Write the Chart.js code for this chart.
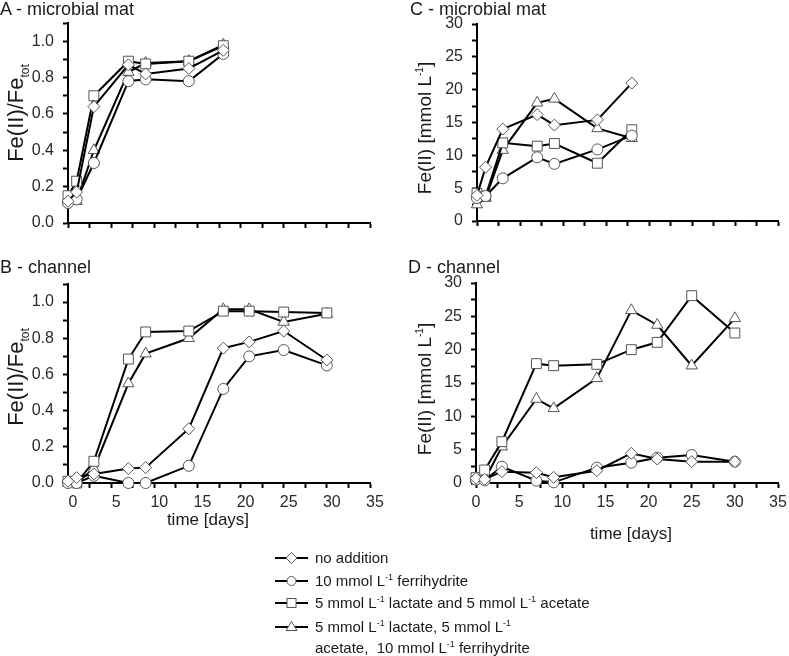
<!DOCTYPE html>
<html><head><meta charset="utf-8">
<script src="https://cdn.jsdelivr.net/npm/chart.js@4"></script>
<style>
html,body{margin:0;padding:0;background:#fff;}
#wrap{position:relative;width:789px;height:656px;overflow:hidden;font-family:"Liberation Sans",Arial,sans-serif;color:#1a1a1a;}
canvas{position:absolute;}
.t{position:absolute;white-space:nowrap;line-height:1;}
.c{transform:translate(-50%,-50%);}
.yt{position:absolute;white-space:nowrap;line-height:1;font-size:22px;transform:translate(-50%,-50%) rotate(-90deg);}
.yt2{font-size:19px;}
.sub{font-size:12px;position:relative;top:6px;}
.sup{font-size:10px;position:relative;top:-8px;}
.lg{position:absolute;left:275px;height:16px;font-size:15px;line-height:16px;white-space:nowrap;}
.lg svg{position:absolute;left:0;top:1px;}
.lg span.tx{position:absolute;left:40px;top:0;}
.lsup{font-size:9px;position:relative;top:-6px;}
</style>
</head><body>
<div id="wrap">
<canvas id="cA" width="390" height="240" style="left:0;top:0"></canvas>
<canvas id="cC" width="399" height="240" style="left:390px;top:0"></canvas>
<canvas id="cB" width="390" height="290" style="left:0;top:240px"></canvas>
<canvas id="cD" width="399" height="290" style="left:390px;top:240px"></canvas>

<div class="t" style="left:0;top:0;font-size:18px">A - microbial mat</div>
<div class="t" style="left:410px;top:0;font-size:18px">C - microbial mat</div>
<div class="t" style="left:0;top:258px;font-size:18px">B - channel</div>
<div class="t" style="left:408px;top:258px;font-size:18px">D - channel</div>

<div class="yt" style="left:16px;top:113px">Fe(II)/Fe<span class="sub">tot</span></div>
<div class="yt" style="left:16px;top:377px">Fe(II)/Fe<span class="sub">tot</span></div>
<div class="yt yt2" style="left:424px;top:128px">Fe(II) [mmol L<span class="sup">-1</span>]</div>
<div class="yt yt2" style="left:424px;top:389px">Fe(II) [mmol L<span class="sup">-1</span>]</div>

<div class="t c" style="left:208px;top:519px;font-size:17px">time [days]</div>
<div class="t c" style="left:631px;top:533px;font-size:17px">time [days]</div>

<div id="legend"></div>
</div>
<script>
// ---- data ----
const timeMat = [0, 1, 3, 7, 9, 14, 18];
const timeChan = [0, 1, 3, 7, 9, 14, 18, 21, 25, 30];

const seriesNames = [
  'no addition',
  '10 mmol L-1 ferrihydrite',
  '5 mmol L-1 lactate and 5 mmol L-1 acetate',
  '5 mmol L-1 lactate, 5 mmol L-1 acetate, 10 mmol L-1 ferrihydrite'
];

// A - microbial mat, Fe(II)/Fe_tot
const matRatioNoAdd      = [0.12, 0.17, 0.64, 0.87, 0.82, 0.85, 0.95];
const matRatioFerri      = [0.11, 0.13, 0.33, 0.78, 0.79, 0.78, 0.93];
const matRatioLacAc      = [0.15, 0.23, 0.70, 0.89, 0.875, 0.89, 0.975];
const matRatioLacAcFerri = [0.12, 0.12, 0.40, 0.83, 0.88, 0.89, 0.98];

// C - microbial mat, Fe(II) mmol/L
const matFeNoAdd      = [3.9, 8.2, 14.0, 16.2, 14.6, 15.4, 21.0];
const matFeFerri      = [3.5, 3.8, 6.5, 9.7, 8.7, 10.9, 13.0];
const matFeLacAc      = [4.2, 3.8, 11.9, 11.4, 11.8, 8.8, 13.9];
const matFeLacAcFerri = [2.5, 3.5, 10.8, 18.0, 18.6, 14.1, 12.6];

// B - channel, Fe(II)/Fe_tot
const chanRatioNoAdd      = [0.01, 0.03, 0.05, 0.08, 0.085, 0.30, 0.745, 0.78, 0.84, 0.68];
const chanRatioFerri      = [0.0, 0.0, 0.04, 0.0, 0.0, 0.095, 0.52, 0.70, 0.735, 0.65];
const chanRatioLacAc      = [0.01, 0.0, 0.12, 0.685, 0.835, 0.84, 0.95, 0.95, 0.945, 0.94];
const chanRatioLacAcFerri = [0.0, 0.0, 0.08, 0.55, 0.715, 0.80, 0.96, 0.96, 0.89, 0.935];

// D - channel, Fe(II) mmol/L
const chanFeNoAdd      = [0.7, 0.55, 1.7, 1.55, 0.85, 1.85, 4.45, 3.6, 3.2, 3.2];
const chanFeFerri      = [0.5, 0.4, 2.45, 0.35, 0.1, 2.3, 3.05, 3.8, 4.2, 3.2];
const chanFeLacAc      = [0.8, 1.95, 6.2, 17.9, 17.6, 17.8, 20.0, 21.1, 28.1, 22.5];
const chanFeLacAcFerri = [0.6, 0.45, 5.45, 12.6, 11.2, 15.7, 25.9, 23.7, 17.6, 24.7];

const xTicks = [0, 5, 10, 15, 20, 25, 30, 35];
const ratioTicks = [0.0, 0.2, 0.4, 0.6, 0.8, 1.0];
const feTicks = [0, 5, 10, 15, 20, 25, 30];

// ---- styling ----
const markerStyles = [
  {pointStyle: 'rectRot', pointRadius: 6},
  {pointStyle: 'circle', pointRadius: 5.5},
  {pointStyle: 'rect', pointRadius: 7},
  {pointStyle: 'triangle', pointRadius: 6.5}
];
const FONT = {family: '"Liberation Sans", Arial, sans-serif', size: 16};
const TICKCOL = '#2a2a2a';

function makeDatasets(times, seriesList) {
  return seriesList.map((vals, i) => ({
    label: seriesNames[i],
    data: times.map((t, k) => ({x: t, y: vals[k]})),
    borderColor: '#000',
    borderWidth: 2,
    pointBackgroundColor: '#fff',
    pointBorderColor: '#555',
    pointBorderWidth: 1,
    pointStyle: markerStyles[i].pointStyle,
    pointRadius: markerStyles[i].pointRadius,
    pointHoverRadius: markerStyles[i].pointRadius,
    tension: 0,
    clip: false,
    fill: false
  }));
}

function build(id, opts) {
  const canvas = document.getElementById(id);
  const W = canvas.width, H = canvas.height;
  const ratio = opts.kind === 'ratio';
  const yLabels = ratio ? ratioTicks : feTicks;
  new Chart(canvas, {
    type: 'line',
    data: {datasets: makeDatasets(opts.times, opts.series)},
    options: {
      responsive: false,
      animation: false,
      events: [],
      layout: {padding: {left: 0, top: opts.top, right: W - opts.right, bottom: 0}},
      plugins: {legend: {display: false}, tooltip: {enabled: false}, title: {display: false}},
      scales: {
        x: {
          type: 'linear', min: xTicks[0], max: xTicks[xTicks.length - 1],
          ticks: {
            stepSize: 2.5, autoSkip: false, maxRotation: 0, padding: 5,
            labelOffset: opts.labelOffset || 0,
            color: TICKCOL, font: FONT,
            callback: v => (opts.xLabels && xTicks.includes(v)) ? String(v) : ''
          },
          grid: {drawOnChartArea: false, drawTicks: true, tickLength: 5, tickWidth: 2, tickColor: '#000'},
          border: {display: true, color: '#000', width: 2},
          afterFit: s => { s.height = H - opts.bottom; s.paddingLeft = 0; s.paddingRight = 0; }
        },
        y: {
          type: 'linear',
          min: 0, max: ratio ? 1.1 : 30,
          ticks: {
            stepSize: ratio ? 0.1 : 2.5, autoSkip: false, padding: 9,
            color: TICKCOL, font: FONT,
            callback: v => {
              if (ratio) {
                const r = Math.round(v * 10) / 10;
                return yLabels.some(t => Math.abs(t - r) < 1e-6) && Math.abs(v - r) < 1e-6 ? r.toFixed(1) : '';
              }
              return yLabels.includes(v) ? String(v) : '';
            }
          },
          grid: {drawOnChartArea: false, drawTicks: true, tickLength: 5, tickWidth: 2, tickColor: '#000'},
          border: {display: true, color: '#000', width: 2},
          afterFit: s => { s.width = opts.left; s.paddingTop = 0; s.paddingBottom = 0; }
        }
      }
    }
  });
}

build('cA', {kind: 'ratio', times: timeMat,
  series: [matRatioNoAdd, matRatioFerri, matRatioLacAc, matRatioLacAcFerri],
  left: 68, right: 370, top: 23, bottom: 223, xLabels: false});
build('cC', {kind: 'fe', times: timeMat,
  series: [matFeNoAdd, matFeFerri, matFeLacAc, matFeLacAcFerri],
  left: 87, right: 388, top: 24, bottom: 221, xLabels: false});
build('cB', {kind: 'ratio', times: timeChan,
  series: [chanRatioNoAdd, chanRatioFerri, chanRatioLacAc, chanRatioLacAcFerri],
  left: 68, right: 370, top: 44, bottom: 243, xLabels: true, labelOffset: 5});
build('cD', {kind: 'fe', times: timeChan,
  series: [chanFeNoAdd, chanFeFerri, chanFeLacAc, chanFeLacAcFerri],
  left: 86, right: 388, top: 43, bottom: 243, xLabels: true});

// ---- legend (HTML) ----
const legendRows = [
  {marker: 0, top: 550, html: 'no addition'},
  {marker: 1, top: 573, html: '10 mmol L<span class="lsup">-1</span> ferrihydrite'},
  {marker: 2, top: 595, html: '5 mmol L<span class="lsup">-1</span> lactate and 5 mmol L<span class="lsup">-1</span> acetate'},
  {marker: 3, top: 619, html: '5 mmol L<span class="lsup">-1</span> lactate, 5 mmol L<span class="lsup">-1</span>'},
  {marker: -1, top: 640, html: 'acetate,&nbsp; 10 mmol L<span class="lsup">-1</span> ferrihydrite'}
];
function markerSvg(m) {
  const cx = 16.5, cy = 7;
  let shape = '';
  const st = 'fill="#fff" stroke="#555" stroke-width="1"';
  if (m === 0) shape = `<polygon points="${cx-5.5},${cy} ${cx},${cy-5.5} ${cx+5.5},${cy} ${cx},${cy+5.5}" ${st}/>`;
  if (m === 1) shape = `<circle cx="${cx}" cy="${cy}" r="4.5" ${st}/>`;
  if (m === 2) shape = `<rect x="${cx-4.5}" y="${cy-4.5}" width="9" height="9" ${st}/>`;
  if (m === 3) shape = `<polygon points="${cx},${cy-5.5} ${cx+5.5},${cy+3.5} ${cx-5.5},${cy+3.5}" ${st}/>`;
  return `<svg width="34" height="14"><line x1="0" y1="${cy}" x2="33" y2="${cy}" stroke="#000" stroke-width="1.8"/>${shape}</svg>`;
}
const lg = document.getElementById('legend');
legendRows.forEach(r => {
  const d = document.createElement('div');
  d.className = 'lg';
  d.style.top = r.top + 'px';
  d.innerHTML = (r.marker >= 0 ? markerSvg(r.marker) : '') + '<span class="tx">' + r.html + '</span>';
  lg.appendChild(d);
});
</script>
</body></html>
